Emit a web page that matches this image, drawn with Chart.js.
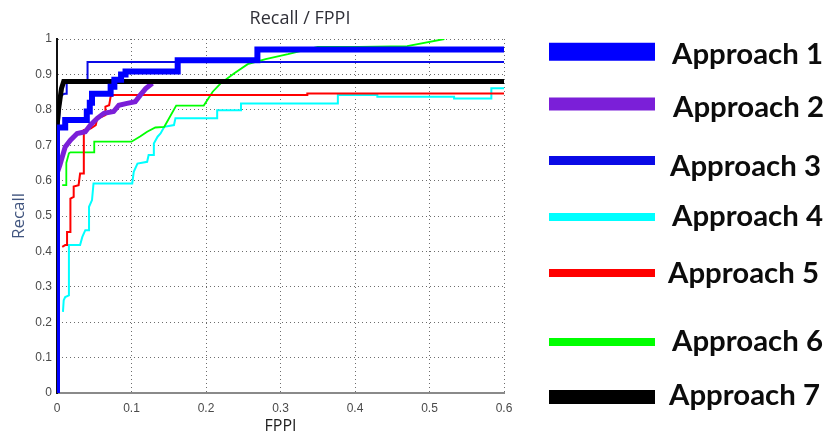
<!DOCTYPE html>
<html>
<head>
<meta charset="utf-8">
<script src="https://cdn.jsdelivr.net/npm/chart.js@4/dist/chart.umd.min.js"></script>
<style>
  html, body { margin: 0; padding: 0; background: #ffffff; }
  #wrap { width: 829px; height: 437px; }
</style>
</head>
<body>
<div id="wrap"><canvas id="c" width="829" height="437"></canvas></div>
<script>
// ---------------- data ----------------
const seriesLabels = ['Approach 1', 'Approach 2', 'Approach 3', 'Approach 4', 'Approach 5', 'Approach 6', 'Approach 7'];

const fppi1   = [0, 0, 0.011, 0.011, 0.040, 0.040, 0.044, 0.044, 0.047, 0.047, 0.072, 0.072, 0.077, 0.077, 0.086, 0.086, 0.092, 0.092, 0.162, 0.162, 0.269, 0.269, 0.6];
const recall1 = [0, 0.750, 0.750, 0.771, 0.771, 0.795, 0.795, 0.820, 0.820, 0.845, 0.845, 0.865, 0.865, 0.885, 0.885, 0.900, 0.900, 0.908, 0.908, 0.940, 0.940, 0.970, 0.970];

const fppi2   = [0, 0.004, 0.011, 0.018, 0.027, 0.038, 0.045, 0.054, 0.063, 0.076, 0.083, 0.094, 0.105, 0.112, 0.119, 0.128];
const recall2 = [0.620, 0.645, 0.695, 0.714, 0.733, 0.738, 0.757, 0.776, 0.790, 0.795, 0.813, 0.818, 0.823, 0.842, 0.860, 0.875];

const fppi3   = [0, 0, 0.002, 0.005, 0.010, 0.013, 0.013, 0.041, 0.041, 0.6];
const recall3 = [0, 0.600, 0.750, 0.840, 0.845, 0.845, 0.880, 0.880, 0.935, 0.935];

const fppi4   = [0.008, 0.009, 0.011, 0.016, 0.016, 0.031, 0.034, 0.038, 0.043, 0.043, 0.047, 0.049, 0.101, 0.103, 0.108, 0.121, 0.123, 0.130, 0.130, 0.135, 0.139, 0.144, 0.157, 0.159, 0.215, 0.215, 0.247, 0.247, 0.377, 0.377, 0.430, 0.430, 0.533, 0.533, 0.583, 0.583, 0.6];
const recall4 = [0.229, 0.262, 0.271, 0.276, 0.418, 0.418, 0.441, 0.460, 0.460, 0.526, 0.545, 0.592, 0.592, 0.625, 0.648, 0.653, 0.672, 0.672, 0.705, 0.724, 0.733, 0.752, 0.757, 0.776, 0.776, 0.799, 0.799, 0.818, 0.818, 0.842, 0.842, 0.837, 0.837, 0.832, 0.832, 0.861, 0.861];

const fppi5   = [0.007, 0.011, 0.0135, 0.0135, 0.018, 0.018, 0.0224, 0.0224, 0.029, 0.031, 0.036, 0.036, 0.045, 0.052, 0.054, 0.060, 0.065, 0.065, 0.070, 0.072, 0.076, 0.336, 0.336, 0.6];
const recall5 = [0.413, 0.418, 0.418, 0.455, 0.455, 0.549, 0.554, 0.583, 0.587, 0.620, 0.620, 0.743, 0.747, 0.757, 0.776, 0.780, 0.785, 0.809, 0.813, 0.837, 0.842, 0.842, 0.846, 0.846];

const fppi6   = [0.007, 0.0125, 0.0125, 0.016, 0.018, 0.050, 0.050, 0.100, 0.112, 0.121, 0.132, 0.144, 0.160, 0.197, 0.209, 0.220, 0.238, 0.256, 0.280, 0.310, 0.350, 0.405, 0.470, 0.520];
const recall6 = [0.587, 0.587, 0.650, 0.677, 0.680, 0.680, 0.710, 0.710, 0.725, 0.738, 0.750, 0.752, 0.812, 0.812, 0.851, 0.875, 0.903, 0.929, 0.943, 0.957, 0.978, 0.978, 0.980, 1.0];

const fppi7   = [0, 0, 0.002, 0.004, 0.006, 0.009, 0.6];
const recall7 = [0, 0.750, 0.800, 0.830, 0.860, 0.880, 0.880];

const xTicks = [0, 0.1, 0.2, 0.3, 0.4, 0.5, 0.6];
const yTicks = [0, 0.1, 0.2, 0.3, 0.4, 0.5, 0.6, 0.7, 0.8, 0.9, 1];

// ---------------- styles ----------------
const colors      = ['#0000ff', '#7b1fd8', '#0a0ae6', '#00ffff', '#ff0000', '#00ff00', '#000000'];
const lineWidths  = [6, 5, 2, 2, 2, 1.8, 5];
const drawOrders  = [0, 2, 6, 5, 3, 4, 1];
const legendWidths = [18, 13, 9, 8, 8, 8, 14];
const legendLineY  = [51.7, 104, 160.5, 217, 273, 342, 397];
const legendTextY  = [64, 117, 176, 226, 283, 351, 405];
const legendTextX  = [672, 673, 670, 672, 668, 672, 669];
const legendTextW  = 151;

const fppiSets = [fppi1, fppi2, fppi3, fppi4, fppi5, fppi6, fppi7];
const recallSets = [recall1, recall2, recall3, recall4, recall5, recall6, recall7];

const datasets = seriesLabels.map((label, i) => ({
  label,
  data: fppiSets[i].map((x, j) => ({ x, y: recallSets[i][j] })),
  borderColor: colors[i],
  backgroundColor: colors[i],
  borderWidth: lineWidths[i],
  order: drawOrders[i],
  pointRadius: 0,
  tension: 0,
  fill: false,
  borderJoinStyle: 'miter',
  borderCapStyle: 'butt'
}));

const fmt = v => String(+(+v).toFixed(1));

const overlayPlugin = {
  id: 'overlay',
  afterDraw(chart) {
    const ctx = chart.ctx;
    ctx.save();
    // title
    ctx.fillStyle = '#303038';
    ctx.font = '18px "Open Sans"';
    ctx.textAlign = 'center';
    ctx.textBaseline = 'middle';
    ctx.fillText('Recall / FPPI', 300, 19);
    // legend
    chart.data.datasets.forEach((ds, i) => {
      ctx.beginPath();
      ctx.strokeStyle = ds.borderColor;
      ctx.lineWidth = legendWidths[i];
      ctx.lineCap = 'butt';
      ctx.moveTo(549, legendLineY[i]);
      ctx.lineTo(655, legendLineY[i]);
      ctx.stroke();
      ctx.fillStyle = '#0c0c0c';
      ctx.font = 'bold 28px Lato';
      ctx.textAlign = 'left';
      ctx.textBaseline = 'alphabetic';
      const w = ctx.measureText(ds.label).width;
      const sx = legendTextW / w;
      ctx.save();
      ctx.translate(legendTextX[i], legendTextY[i]);
      ctx.scale(sx, 1);
      ctx.fillText(ds.label, 0, 0);
      ctx.restore();
    });
    ctx.restore();
  }
};

new Chart(document.getElementById('c'), {
  type: 'line',
  data: { datasets },
  options: {
    responsive: false,
    animation: false,
    events: [],
    layout: { padding: { left: 0, top: 39, right: 325, bottom: 0 } },
    plugins: { legend: { display: false }, title: { display: false }, tooltip: { enabled: false } },
    scales: {
      x: {
        type: 'linear',
        min: 0, max: 0.6,
        afterFit: s => { s.height = 44; },
        afterBuildTicks: s => { s.ticks = xTicks.map(v => ({ value: v })); },
        ticks: { callback: fmt, color: '#4a4a4a', font: { family: 'Liberation Sans', size: 12 }, padding: 8, maxRotation: 0 },
        grid: { color: 'rgba(60,60,60,0.75)', lineWidth: 1, drawTicks: false },
        border: { display: true, color: '#8a8a8a', width: 2, dash: [1, 3] },
        title: { display: true, text: 'FPPI', color: '#1e1e1e', font: { family: 'Open Sans', size: 16 }, padding: { top: 0, bottom: 1 } }
      },
      y: {
        type: 'linear',
        min: 0, max: 1,
        afterFit: s => { s.width = 57; },
        afterBuildTicks: s => { s.ticks = yTicks.map(v => ({ value: v })); },
        ticks: { callback: fmt, color: '#4a4a4a', font: { family: 'Liberation Sans', size: 12 }, padding: 5 },
        grid: { color: 'rgba(60,60,60,0.75)', lineWidth: 1, drawTicks: false },
        border: { display: true, color: '#111111', width: 2, dash: [1, 3] },
        title: { display: true, text: 'Recall', color: '#41557f', font: { family: 'Open Sans', size: 17 }, padding: { top: 9, bottom: 0 } }
      }
    }
  },
  plugins: [overlayPlugin]
});
</script>
</body>
</html>
